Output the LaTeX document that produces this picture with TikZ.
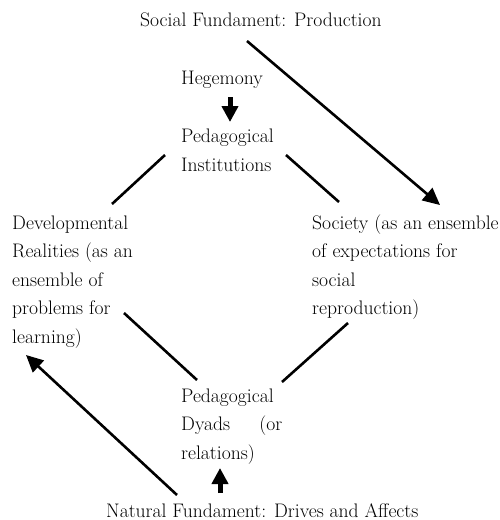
\documentclass[tikz,border=0pt]{standalone}
\usepackage{fontspec}
\usetikzlibrary{arrows.meta}
\begin{document}
\begin{tikzpicture}[x=1pt,y=-1pt,
  txt/.style={inner sep=0pt,anchor=base west,align=left,font=\fontsize{19.6}{28.5}\selectfont},
  conn/.style={line width=2.6pt},
  longarrow/.style={line width=2.6pt,-{Triangle[length=17pt,width=16pt]}},
  shortarrow/.style={line width=5pt,-{Triangle[length=16pt,width=16pt]}}]
\useasboundingbox (0,0) rectangle (500,520);
\node[txt] (social) at (140,26) {Social Fundament: Production};
\node[txt] (hegemony) at (181,84) {Hegemony};
\node[txt] (inst) at (181,171) {Pedagogical\\Institutions};
\node[txt] (dev) at (12,343) {Developmental\\Realities (as an\\ensemble of\\problems for\\learning)};
\node[txt] (soc) at (312,314.5) {Society (as an ensemble\\of expectations for\\social\\reproduction)};
\node[txt] (dyads) at (181,459) {Pedagogical\\\makebox[101pt][s]{Dyads (or}\\relations)};
\node[txt] (natural) at (106,517) {Natural Fundament: Drives and Affects};
% connector end points
\coordinate (socA) at (247,41);
\coordinate (socB) at (440,205);
\coordinate (hegA) at (230,97);
\coordinate (hegB) at (230,122);
\coordinate (instL) at (165,155);
\coordinate (devT) at (112,204);
\coordinate (instR) at (286,155);
\coordinate (socT) at (339,202);
\coordinate (devB) at (124,313);
\coordinate (dyL) at (197,380);
\coordinate (socBt) at (348,323);
\coordinate (dyR) at (282,382);
\coordinate (natA) at (177,495);
\coordinate (natB) at (26,355);
\coordinate (natC) at (220,493);
\coordinate (natD) at (220,468);
\draw[longarrow] (socA) -- (socB);
\draw[shortarrow] (hegA) -- (hegB);
\draw[conn] (instL) -- (devT);
\draw[conn] (instR) -- (socT);
\draw[conn] (devB) -- (dyL);
\draw[conn] (socBt) -- (dyR);
\draw[longarrow] (natA) -- (natB);
\draw[shortarrow] (natC) -- (natD);
\end{tikzpicture}
\end{document}
